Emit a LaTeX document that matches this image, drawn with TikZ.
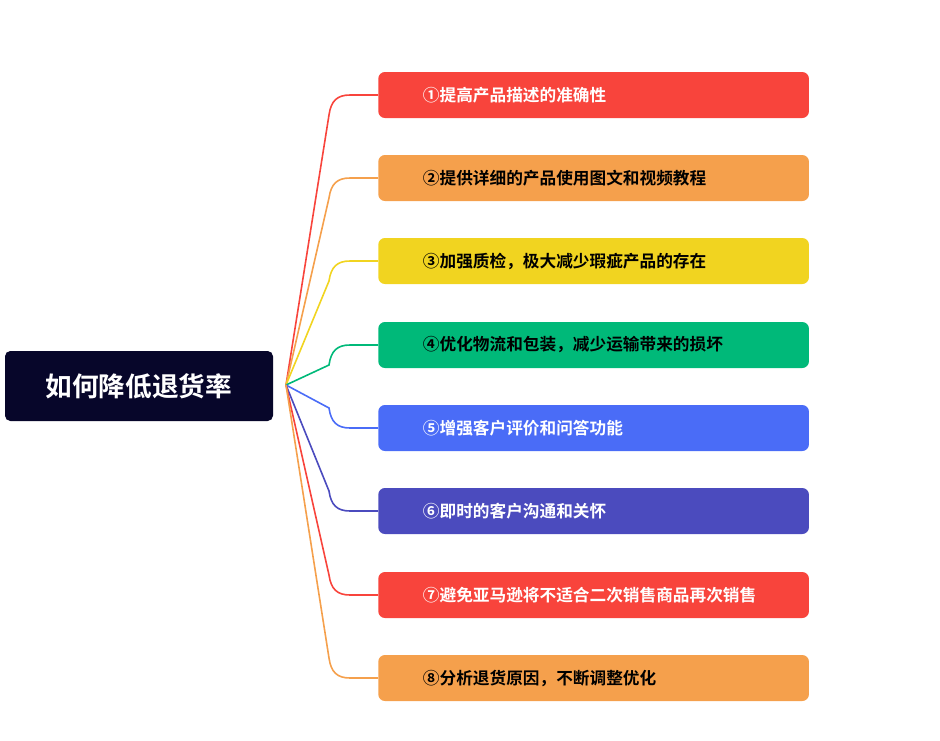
\documentclass[tikz,border=0pt]{standalone}
\usepackage{fontspec}
\setmainfont{Noto Sans CJK SC}[BoldFont={Noto Sans CJK SC Bold}]
\definecolor{cRed}{HTML}{F8443C}
\definecolor{cOra}{HTML}{F5A04C}
\definecolor{cYel}{HTML}{F1D420}
\definecolor{cGrn}{HTML}{00B979}
\definecolor{cBlu}{HTML}{4A6CF7}
\definecolor{cInd}{HTML}{4B4BBE}
\definecolor{cRoot}{HTML}{07062A}
\begin{document}
\begin{tikzpicture}[x=0.75pt,y=-0.75pt,
  rootbox/.style={fill=cRoot,rounded corners=4pt,minimum width=201pt,minimum height=52.5pt,text=white,font=\fontsize{20}{24}\selectfont\bfseries,inner sep=0pt},
  leaf/.style={fill=#1,rounded corners=5pt,minimum width=323pt,minimum height=34.5pt,anchor=west,align=left,font=\fontsize{12.5}{15}\selectfont\bfseries,text width=300pt,inner sep=0pt},
  link/.style={line width=1.2pt,draw=#1}]
\useasboundingbox (0,0) rectangle (940,740);
\node[rootbox] (root) at (139,386) {如何降低退货率};
\coordinate (hub) at (286,385);
\foreach \i/\y/\c/\t/\txt in {
 1/95/cRed/white/①提高产品描述的准确性,
 2/178/cOra/black/②提供详细的产品使用图文和视频教程,
 3/261/cYel/black/③加强质检，极大减少瑕疵产品的存在,
 4/345/cGrn/black/④优化物流和包装，减少运输带来的损坏,
 5/428/cBlu/white/⑤增强客户评价和问答功能,
 6/511/cInd/white/⑥即时的客户沟通和关怀,
 7/595/cRed/white/⑦避免亚马逊将不适合二次销售商品再次销售,
 8/678/cOra/black/⑧分析退货原因，不断调整优化}{
  \node[leaf=\c,text=\t] (b\i) at (378,\y) {\hspace*{22pt}\txt};
  \pgfmathsetmacro{\dy}{\y<385 ? 20 : -20}
  \draw[link=\c] (hub) -- (329,\y+\dy) .. controls (331,\y+\dy*0.3) and (337,\y) .. (350,\y) -- (b\i.west);
}
\end{tikzpicture}
\end{document}
